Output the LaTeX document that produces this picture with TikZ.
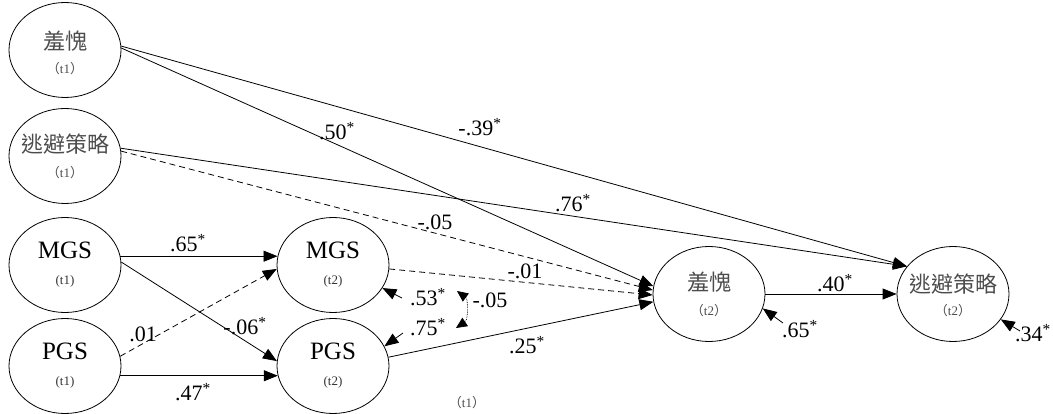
\documentclass[tikz,border=0pt]{standalone}
\usepackage{fontspec}
\setmainfont{Liberation Serif}
\newfontfamily\cjk{Noto Sans CJK TC}
\usetikzlibrary{shapes.geometric,arrows.meta}
\begin{document}
\begin{tikzpicture}[x=1pt,y=-1pt,
  lat/.style={ellipse,draw,line width=0.8pt,inner sep=0pt,minimum width=112pt,minimum height=95pt},
  zh/.style={font=\cjk\fontsize{22}{24}\selectfont,text=black!70,inner sep=0pt},
  zhsub/.style={font=\fontsize{13}{15}\selectfont,text=black!70,inner sep=0pt},
  en/.style={font=\fontsize{25}{27}\selectfont,inner sep=0pt},
  ensub/.style={font=\fontsize{13}{15}\selectfont,text=black!80,inner sep=0pt},
  conn/.style={line width=0.8pt,-{Triangle[length=14pt,width=11pt]}},
  dconn/.style={conn,dash pattern=on 6pt off 4pt},
  coef/.style={font=\fontsize{22}{24}\selectfont,inner sep=0pt}
]
\useasboundingbox (0,0) rectangle (1053,414);

% latent variables
\node[lat] (s1) at (65,50) {};
\node[lat] (a1) at (65,156) {};
\node[lat] (m1) at (65,265) {};
\node[lat] (p1) at (65,366) {};
\node[lat] (m2) at (333,265) {};
\node[lat] (p2) at (333,366) {};
\node[lat] (s2) at (709,294) {};
\node[lat] (a2) at (953,294) {};

% texts inside
\path (s1.center) ++(0,-9) node[zh] (s1t) {羞愧};
\path (s1.center) ++(0,19) node[zhsub] (s1s) {{\cjk （}t1{\cjk ）}};
\path (a1.center) ++(0,-12) node[zh] (a1t) {逃避策略};
\path (a1.center) ++(0,17) node[zhsub] (a1s) {{\cjk （}t1{\cjk ）}};
\path (m1.center) ++(0,-15) node[en] (m1t) {MGS};
\path (m1.center) ++(0,16) node[ensub] (m1s) {(t1)};
\path (p1.center) ++(0,-15) node[en] (p1t) {PGS};
\path (p1.center) ++(0,16) node[ensub] (p1s) {(t1)};
\path (m2.center) ++(0,-15) node[en] (m2t) {MGS};
\path (m2.center) ++(0,16) node[ensub] (m2s) {(t2)};
\path (p2.center) ++(0,-15) node[en] (p2t) {PGS};
\path (p2.center) ++(0,16) node[ensub] (p2s) {(t2)};
\path (s2.center) ++(0,-12) node[zh] (s2t) {羞愧};
\path (s2.center) ++(0,17) node[zhsub] (s2s) {{\cjk （}t2{\cjk ）}};
\path (a2.center) ++(0,-10) node[zh] (a2t) {逃避策略};
\path (a2.center) ++(0,17) node[zhsub] (a2s) {{\cjk （}t2{\cjk ）}};

% paths
\draw[conn] (s1.4) -- (a2.149);
\draw[conn] (s1.2) -- (s2.172);
\draw[conn] (a1.8) -- (a2.149);
\draw[dconn] (a1.5) -- (s2.176);
\draw[conn] (m1.9) -- (m2.171);
\draw[conn] (m1.3) -- (p2.175);
\draw[dconn] (p1.10) -- (m2.184);
\draw[conn] (p1.-10) -- (p2.190);
\draw[dconn] (m2.-4) -- (s2.181);
\draw[conn] (p2.9) -- (s2.188);
\draw[conn] (s2.0) -- (a2.180);

% residuals
\coordinate (r1) at (402,298);
\coordinate (r2) at (403,333);
\coordinate (r3) at (783,323);
\coordinate (r4) at (1020,331);
\draw[conn] (r1) -- (m2.-25);
\draw[conn] (r2) -- (p2.21);
\draw[conn] (r3) -- (s2.-15);
\draw[conn] (r4) -- (a2.-28);

% covariance of residuals
\coordinate (c1) at (457,291);
\coordinate (c2) at (456,328);
\draw[line width=0.7pt,densely dotted,{Triangle[length=11pt,width=10pt]}-{Triangle[length=11pt,width=10pt]}] (c1) to[bend left=55] (c2);

% coefficients
\node[coef] (l1) at (480,127) {-.39\textsuperscript{*}};
\node[coef] (l2) at (337,131) {.50\textsuperscript{*}};
\node[coef] (l3) at (573,203) {.76\textsuperscript{*}};
\node[coef] (l4) at (435,222) {-.05};
\node[coef] (l5) at (188,243) {.65\textsuperscript{*}};
\node[coef] (l6) at (245,326) {-.06\textsuperscript{*}};
\node[coef] (l7) at (143,334) {.01};
\node[coef] (l8) at (193,392) {.47\textsuperscript{*}};
\node[coef] (l9) at (525,271) {-.01};
\node[coef] (l10) at (490,300) {-.05};
\node[coef] (l11) at (428,297) {.53\textsuperscript{*}};
\node[coef] (l12) at (428,327) {.75\textsuperscript{*}};
\node[coef] (l13) at (527,345) {.25\textsuperscript{*}};
\node[coef] (l14) at (835,283) {.40\textsuperscript{*}};
\node[coef] (l15) at (800,329) {.65\textsuperscript{*}};
\node[coef] (l16) at (1033,333) {.34\textsuperscript{*}};
\node[zhsub] (tx) at (467,403) {{\cjk （}t1{\cjk ）}};
\end{tikzpicture}
\end{document}
